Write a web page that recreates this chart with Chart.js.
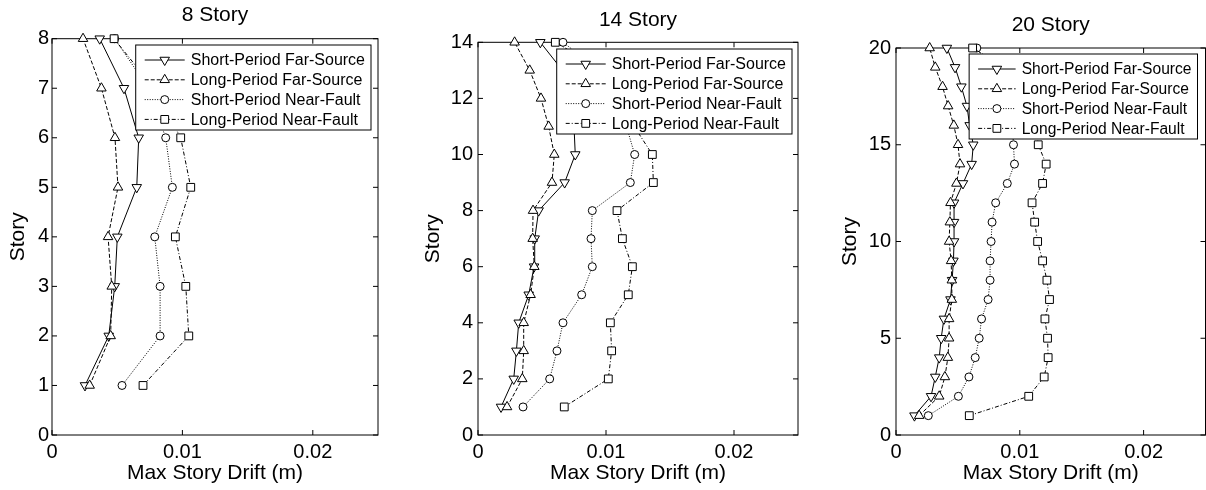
<!DOCTYPE html>
<html>
<head>
<meta charset="utf-8">
<script src="https://cdn.jsdelivr.net/npm/chart.js@4.4.1/dist/chart.umd.min.js"></script>
<style>
  html, body { margin: 0; padding: 0; background: #fff; overflow: hidden; width: 1206px; height: 490px; }
  canvas { position: absolute; top: 0; }
</style>
</head>
<body>
<canvas id="c8" width="400" height="490" style="left:0px"></canvas>
<canvas id="c14" width="400" height="490" style="left:418px"></canvas>
<canvas id="c20" width="376" height="490" style="left:836px"></canvas>
<script>
// ---- data (max story drift in m, listed from story 1 upward) ----
const LEGEND_LABELS = ['Short-Period Far-Source', 'Long-Period Far-Source', 'Short-Period Near-Fault', 'Long-Period Near-Fault'];
const X_TICKS = [0, 0.01, 0.02];

const STORY_8 = [1, 2, 3, 4, 5, 6, 7, 8];
const SPFS_8 = [0.00253, 0.00435, 0.00481, 0.00501, 0.0065, 0.00665, 0.00552, 0.00366];
const LPFS_8 = [0.00289, 0.0045, 0.00458, 0.0043, 0.00506, 0.00483, 0.00379, 0.00238];
const SPNF_8 = [0.00537, 0.00829, 0.00829, 0.00788, 0.00923, 0.00872, 0.0074, 0.0048];
const LPNF_8 = [0.00698, 0.01049, 0.01026, 0.00946, 0.01064, 0.00987, 0.0078, 0.00476];
const Y_TICKS_8 = [0, 1, 2, 3, 4, 5, 6, 7, 8];

const STORY_14 = [1, 2, 3, 4, 5, 6, 7, 8, 9, 10, 11, 12, 13, 14];
const SPFS_14 = [0.0018, 0.00279, 0.003, 0.00318, 0.00396, 0.00438, 0.00443, 0.00474, 0.00677, 0.0076, 0.0075, 0.0072, 0.0066, 0.00487];
const LPFS_14 = [0.00227, 0.00346, 0.00357, 0.00357, 0.00411, 0.0044, 0.00427, 0.0043, 0.00578, 0.00596, 0.00552, 0.00492, 0.00404, 0.00286];
const SPNF_14 = [0.00352, 0.0056, 0.00617, 0.00664, 0.0081, 0.00893, 0.00883, 0.00893, 0.0119, 0.01224, 0.0116, 0.0108, 0.0095, 0.00664];
const LPNF_14 = [0.00674, 0.01018, 0.01044, 0.01034, 0.01174, 0.01206, 0.01128, 0.01086, 0.0137, 0.01362, 0.0122, 0.0115, 0.0098, 0.00604];
const Y_TICKS_14 = [0, 2, 4, 6, 8, 10, 12, 14];

const STORY_20 = [1, 2, 3, 4, 5, 6, 7, 8, 9, 10, 11, 12, 13, 14, 15, 16, 17, 18, 19, 20];
const SPFS_20 = [0.00149, 0.00283, 0.00317, 0.00349, 0.00365, 0.00387, 0.0044, 0.00453, 0.00464, 0.00469, 0.00469, 0.00469, 0.00541, 0.00611, 0.00624, 0.00595, 0.00573, 0.00528, 0.00477, 0.00411];
const LPFS_20 = [0.00187, 0.00349, 0.00395, 0.00419, 0.00429, 0.00429, 0.00451, 0.00451, 0.00445, 0.00429, 0.00435, 0.0044, 0.00488, 0.00517, 0.00501, 0.00467, 0.00421, 0.00376, 0.00317, 0.00272];
const SPNF_20 = [0.00261, 0.00504, 0.00589, 0.0064, 0.00672, 0.00691, 0.00744, 0.0076, 0.0076, 0.00768, 0.00776, 0.00805, 0.00899, 0.00957, 0.00949, 0.0094, 0.009, 0.0084, 0.0076, 0.00653];
const LPNF_20 = [0.00592, 0.01072, 0.01197, 0.01229, 0.01224, 0.01203, 0.0124, 0.01219, 0.01184, 0.01144, 0.0112, 0.01099, 0.01184, 0.01213, 0.01149, 0.0113, 0.0108, 0.01, 0.0088, 0.00619];
const Y_TICKS_20 = [0, 5, 10, 15, 20];

// ---- styling ----
const FONT = '"Liberation Sans", Arial, Helvetica, sans-serif';
Chart.defaults.font.family = FONT;
Chart.defaults.color = '#000';

// line/marker look per series, same order as LEGEND_LABELS
const SERIES_STYLE = [
  { pointStyle: 'triangle', rotation: 180, radius: 5.5, dash: [] },
  { pointStyle: 'triangle', rotation: 0, radius: 5.5, dash: [4, 2] },
  { pointStyle: 'circle', rotation: 0, radius: 4, dash: [1, 1.5] },
  { pointStyle: 'rect', rotation: 0, radius: 5.5, dash: [4, 2, 1, 2] }
];

// box around the axes + inward ticks on all four sides (matlab look)
const framePlugin = {
  id: 'frame',
  beforeDatasetsDraw(chart) {
    const { ctx, chartArea: a, scales: { x, y } } = chart;
    ctx.save();
    ctx.strokeStyle = '#000';
    ctx.lineWidth = 1;
    ctx.setLineDash([]);
    ctx.strokeRect(a.left, a.top, a.right - a.left, a.bottom - a.top);
    ctx.beginPath();
    x.ticks.forEach(t => {
      const px = x.getPixelForValue(t.value);
      ctx.moveTo(px, a.bottom); ctx.lineTo(px, a.bottom - 5);
      ctx.moveTo(px, a.top); ctx.lineTo(px, a.top + 5);
    });
    y.ticks.forEach(t => {
      const py = y.getPixelForValue(t.value);
      ctx.moveTo(a.left, py); ctx.lineTo(a.left + 5, py);
      ctx.moveTo(a.right, py); ctx.lineTo(a.right - 5, py);
    });
    ctx.stroke();
    ctx.restore();
  }
};

// legend box in the upper right corner of the axes
const boxLegendPlugin = {
  id: 'boxLegend',
  afterDatasetsDraw(chart, args, opts) {
    const { ctx, chartArea: a } = chart;
    ctx.save();
    ctx.font = opts.fontSize + 'px ' + FONT;
    const tw = Math.max(...LEGEND_LABELS.map(l => ctx.measureText(l).width));
    const w = opts.textX + tw + 6, h = 85;
    const left = a.right - opts.right - w;
    const top = a.top + opts.top;
    ctx.fillStyle = '#fff';
    ctx.fillRect(left, top, w, h);
    ctx.strokeStyle = '#000';
    ctx.lineWidth = 1;
    ctx.strokeRect(left, top, w, h);

    chart.data.datasets.forEach((ds, i) => {
      const cy = top + 15 + i * 19.8;
      ctx.setLineDash(ds.borderDash);
      ctx.beginPath();
      ctx.moveTo(left + 9, cy);
      ctx.lineTo(left + opts.textX - 6, cy);
      ctx.stroke();
      ctx.setLineDash([]);
      ctx.fillStyle = '#fff';
      Chart.helpers.drawPoint(ctx, {
        pointStyle: ds.pointStyle, rotation: ds.pointRotation,
        radius: ds.pointRadius, borderWidth: 1
      }, left + (opts.textX + 3) / 2, cy);
      ctx.fillStyle = '#000';
      ctx.textBaseline = 'middle';
      ctx.textAlign = 'left';
      ctx.fillText(LEGEND_LABELS[i], left + opts.textX, cy + 1);
    });
    ctx.restore();
  }
};

function makeChart(id, title, stories, series, yTicks, lay) {
  const datasets = series.map((vals, i) => {
    const st = SERIES_STYLE[i];
    return {
      label: LEGEND_LABELS[i],
      data: vals.map((v, k) => ({ x: v, y: stories[k] })),
      showLine: true,
      borderColor: '#000',
      borderWidth: 1,
      borderDash: st.dash,
      pointStyle: st.pointStyle,
      pointRotation: st.rotation,
      pointRadius: st.radius,
      pointBorderWidth: 1,
      pointBorderColor: '#000',
      pointBackgroundColor: '#fff',
      tension: 0,
      clip: false,
      order: 3 - i
    };
  });

  return new Chart(document.getElementById(id), {
    type: 'scatter',
    data: { datasets },
    plugins: [framePlugin, boxLegendPlugin],
    options: {
      responsive: false,
      animation: false,
      events: [],
      layout: { padding: { right: lay.padRight } },
      plugins: {
        legend: { display: false },
        tooltip: { enabled: false },
        title: {
          display: true,
          text: title,
          fullSize: false,
          color: '#000',
          font: { size: 21, weight: 'normal' },
          padding: lay.titlePad
        },
        boxLegend: { right: lay.legendRight, top: lay.legendTop, fontSize: lay.legendFont, textX: lay.legendTextX }
      },
      scales: {
        x: {
          type: 'linear',
          min: 0,
          max: 0.025,
          afterBuildTicks: (s) => { s.ticks = X_TICKS.map(v => ({ value: v })); },
          afterFit: (s) => { s.height = 55; },
          grid: { display: false, drawTicks: false },
          border: { display: false },
          ticks: {
            font: { size: 20 },
            padding: 5,
            maxRotation: 0,
            callback: (v) => String(v)
          },
          title: {
            display: true,
            text: 'Max Story Drift (m)',
            font: { size: 21 },
            padding: { top: 0, bottom: 4 }
          }
        },
        y: {
          type: 'linear',
          min: 0,
          max: stories[stories.length - 1],
          afterBuildTicks: (s) => { s.ticks = yTicks.map(v => ({ value: v })); },
          afterFit: (s) => { s.width = lay.yWidth; },
          grid: { display: false, drawTicks: false },
          border: { display: false },
          ticks: {
            font: { size: 20 },
            padding: lay.yTickPad,
            callback: (v) => String(v)
          },
          title: {
            display: true,
            text: 'Story',
            font: { size: 21 },
            padding: { top: lay.yTitlePad, bottom: 0 }
          }
        }
      }
    }
  });
}

makeChart('c8', '8 Story', STORY_8, [SPFS_8, LPFS_8, SPNF_8, LPNF_8], Y_TICKS_8, {
  yWidth: 52, padRight: 22, titlePad: { top: 3, bottom: 10.5 },
  yTitlePad: 5.4, yTickPad: 3, legendRight: 7, legendTop: 6.3,
  legendFont: 16, legendTextX: 55
});
makeChart('c14', '14 Story', STORY_14, [SPFS_14, LPFS_14, SPNF_14, LPNF_14], Y_TICKS_14, {
  yWidth: 60, padRight: 20, titlePad: { top: 7.4, bottom: 9.7 },
  yTitlePad: 2.4, yTickPad: 5, legendRight: 6, legendTop: 6.7,
  legendFont: 16, legendTextX: 55
});
makeChart('c20', '20 Story', STORY_20, [SPFS_20, LPFS_20, SPNF_20, LPNF_20], Y_TICKS_20, {
  yWidth: 60, padRight: 3, titlePad: { top: 12.4, bottom: 10.4 },
  yTitlePad: 1.4, yTickPad: 5, legendRight: 8, legendTop: 6,
  legendFont: 15.6, legendTextX: 52.5
});
</script>
</body>
</html>
